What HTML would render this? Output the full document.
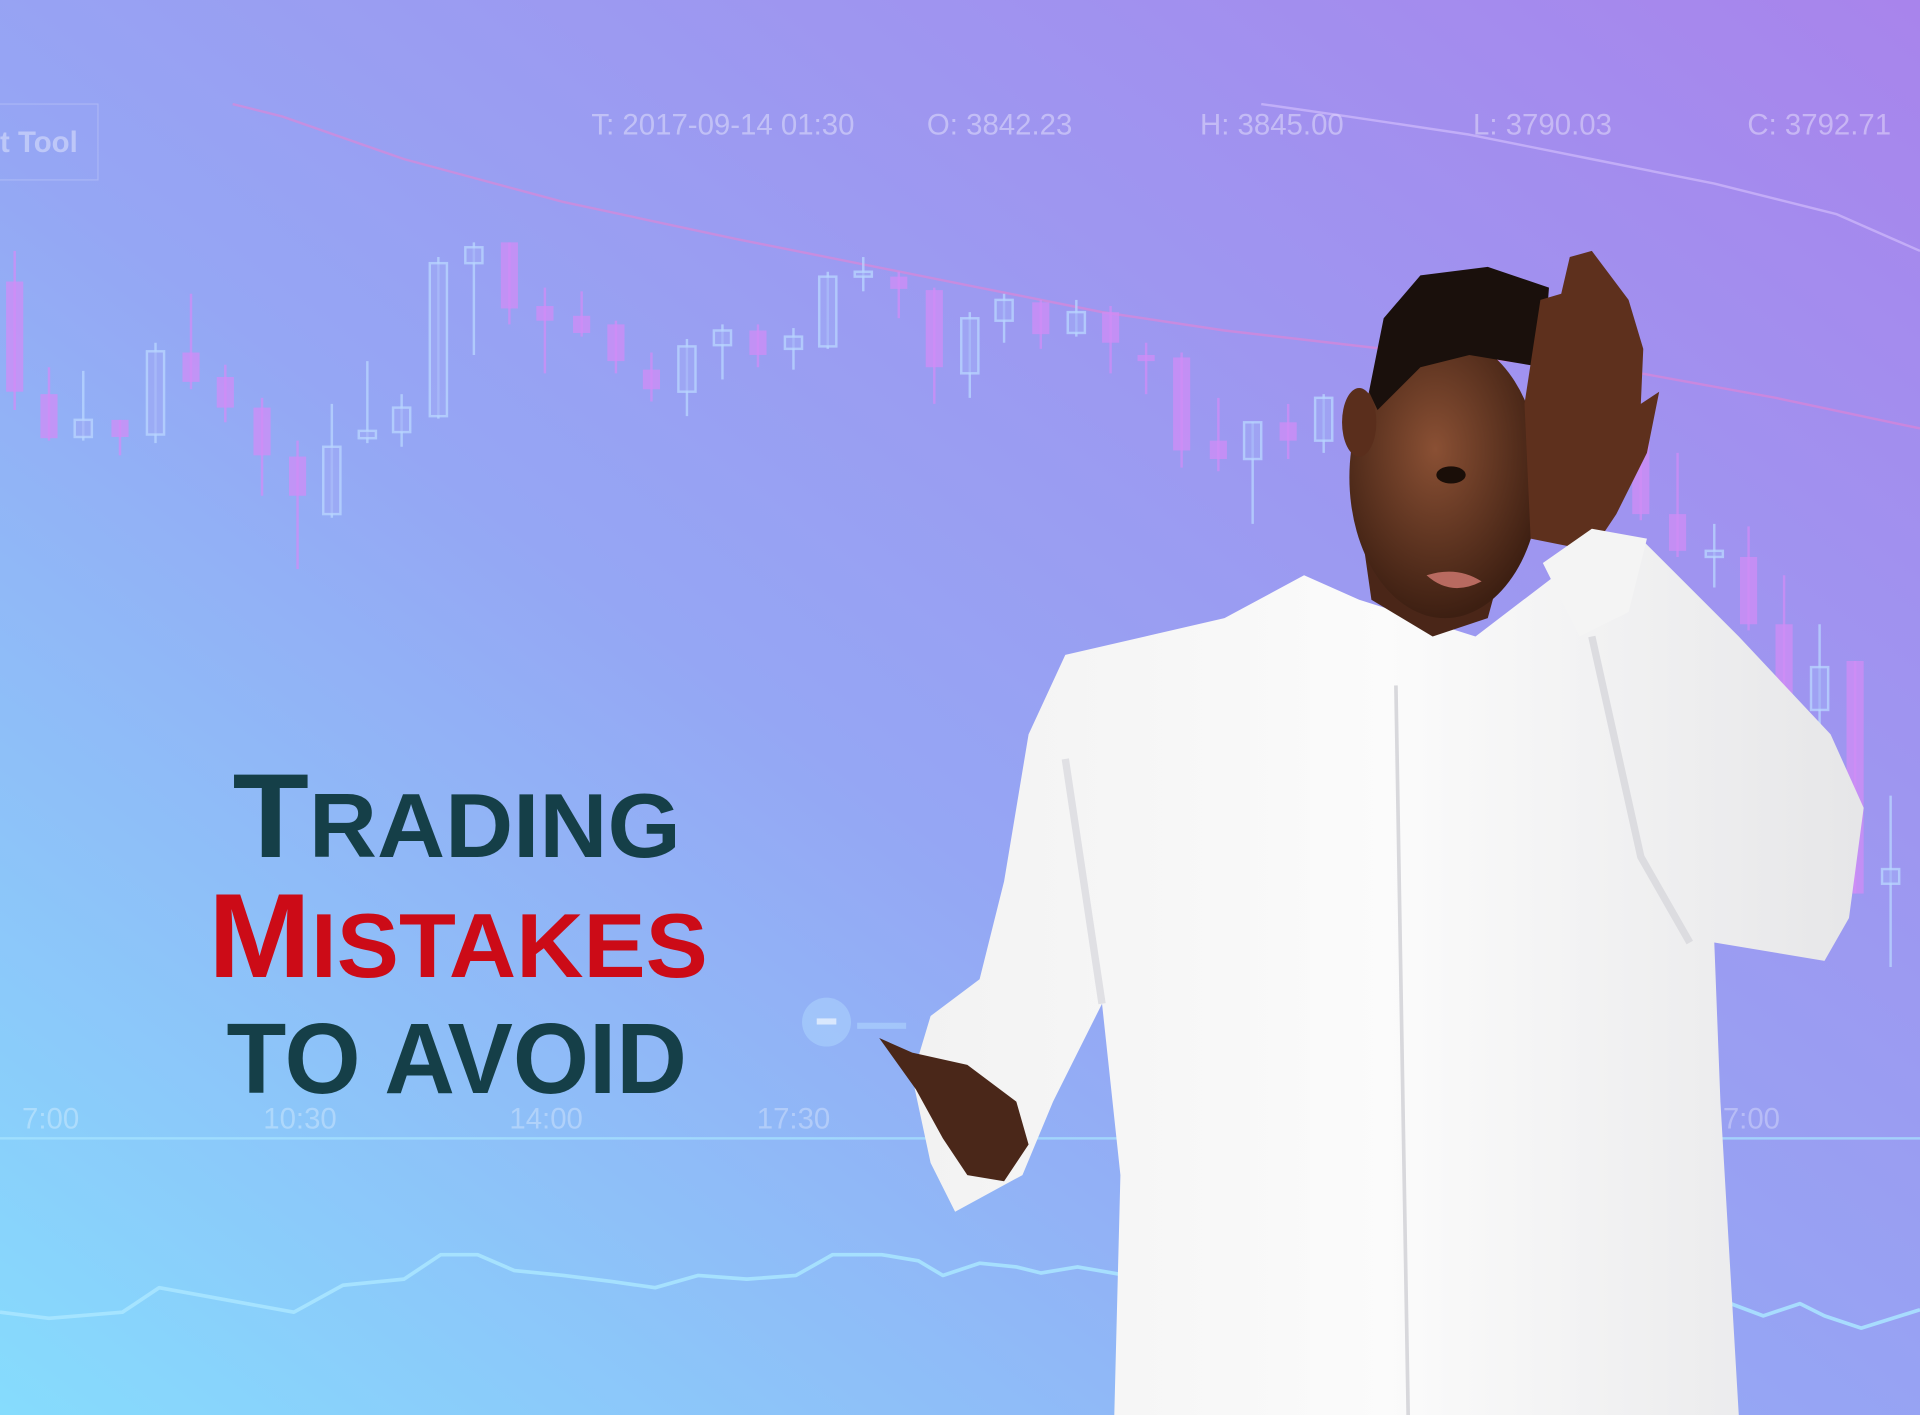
<!DOCTYPE html>
<html><head><meta charset="utf-8">
<style>
html,body{margin:0;padding:0;width:1920px;height:1415px;overflow:hidden;}
svg{display:block;}
</style></head>
<body>
<svg id="scene" width="1920" height="1415" viewBox="0 0 1568 1156" preserveAspectRatio="none" xmlns="http://www.w3.org/2000/svg">
<defs>
<linearGradient id="bg" x1="0" y1="1" x2="1" y2="0">
<stop offset="0" stop-color="#86dcfd"/>
<stop offset="0.45" stop-color="#95a6f4"/>
<stop offset="1" stop-color="#a884ec"/>
</linearGradient>
<radialGradient id="skin" cx="0.45" cy="0.4" r="0.6">
<stop offset="0" stop-color="#8a5034"/>
<stop offset="1" stop-color="#3d1f12"/>
</radialGradient>
<linearGradient id="shirt" x1="0" y1="0" x2="1" y2="0">
<stop offset="0" stop-color="#f2f2f2"/>
<stop offset="0.5" stop-color="#fbfbfb"/>
<stop offset="1" stop-color="#e6e6e8"/>
</linearGradient>
</defs>
<rect x="0" y="0" width="1568" height="1156" fill="url(#bg)"/>

<g fill="#ffffff" fill-opacity="0.38" font-family="'Liberation Sans Narrow','Liberation Sans',sans-serif" font-size="24">
<rect x="-10" y="85" width="90" height="62" fill="none" stroke="#ffffff" stroke-opacity="0.2"/>
<text x="0" y="124" font-weight="bold">t Tool</text>
<text x="483" y="110">T: 2017-09-14 01:30</text>
<text x="757" y="110">O: 3842.23</text>
<text x="980" y="110">H: 3845.00</text>
<text x="1203" y="110">L: 3790.03</text>
<text x="1427" y="110">C: 3792.71</text>
</g>

<g id="chart"></g>

<g>
<line x1="0" y1="930" x2="1568" y2="930" stroke="#a8e6ff" stroke-opacity="0.7" stroke-width="2"/>
<g fill="#ffffff" fill-opacity="0.3" font-family="'Liberation Sans Narrow','Liberation Sans',sans-serif" font-size="24">
<text x="18" y="922">7:00</text>
<text x="215" y="922">10:30</text>
<text x="416" y="922">14:00</text>
<text x="618" y="922">17:30</text>
<text x="1407" y="922">7:00</text>
</g>
</g>

<g>
<circle cx="675" cy="835" r="20" fill="#b4dcff" fill-opacity="0.45"/>
<rect x="667" y="832" width="16" height="5" fill="#ffffff" fill-opacity="0.6"/>
<line x1="700" y1="838" x2="740" y2="838" stroke="#b4dcff" stroke-opacity="0.5" stroke-width="5"/>
</g>

<g id="indicator"></g>

<g>
<!-- shirt body -->
<path fill="url(#shirt)" d="M870 535 L1000 505 L1065 470 L1110 490 L1205 520 L1290 455 L1340 440 L1420 520 L1495 600 L1522 660 L1510 750 L1490 785 L1400 770 L1405 900 L1420 1156 L910 1156 L915 960 L900 820 L880 860 L860 900 L835 960 L780 990 L760 950 L745 880 L760 830 L800 800 L820 720 L840 600 Z"/>
<path d="M1140 560 L1150 1156" stroke="#d8d8dc" stroke-width="3" fill="none"/>
<path d="M1300 520 L1340 700 L1380 770" stroke="#dcdce0" stroke-width="6" fill="none"/>
<path d="M870 620 L900 820" stroke="#e0e0e4" stroke-width="6" fill="none"/>
<!-- neck -->
<path fill="#4a2618" d="M1110 420 L1120 490 L1170 520 L1215 505 L1230 450 Z"/>
<!-- head -->
<ellipse cx="1180" cy="390" rx="78" ry="115" fill="url(#skin)"/>
<ellipse cx="1110" cy="345" rx="14" ry="28" fill="#5a2e1c"/>
<path fill="#1a100c" d="M1118 320 L1130 260 L1160 225 L1215 218 L1265 235 L1260 300 L1200 290 L1160 300 L1125 335 Z"/>
<ellipse cx="1185" cy="388" rx="12" ry="7" fill="#1a0e08"/>
<path d="M1165 470 Q1185 488 1210 475 Q1190 462 1165 470 Z" fill="#b86a60"/>
<!-- hand on head -->
<path fill="#5e301d" d="M1250 440 L1245 330 L1258 245 L1275 240 L1282 210 L1300 205 L1315 225 L1330 245 L1342 285 L1340 330 L1355 320 L1345 370 L1320 420 L1300 450 Z"/>
<path fill="#f4f4f4" d="M1260 460 L1300 432 L1345 440 L1330 500 L1290 520 Z"/>
<!-- left hand -->
<path fill="#4a2719" d="M718 848 L745 860 L790 870 L830 900 L840 935 L820 965 L790 960 L770 930 L748 890 Z"/>
</g>

<g font-family="'Liberation Sans Narrow','Liberation Sans',sans-serif" font-weight="bold">
<text x="190" y="700" fill="#153f48" textLength="366" lengthAdjust="spacingAndGlyphs"><tspan font-size="98">T</tspan><tspan font-size="74">RADING</tspan></text>
<text x="170" y="798" fill="#cc0b17" textLength="408" lengthAdjust="spacingAndGlyphs"><tspan font-size="98">M</tspan><tspan font-size="74">ISTAKES</tspan></text>
<text x="185" y="893" fill="#153f48" font-size="82" textLength="376" lengthAdjust="spacingAndGlyphs">TO AVOID</text>
</g>
</svg>

<script>
// Candle data (price units)
const candleX = [12,40,68,98,127,156,184,214,243,271,300,328,358,387,416,445,475,503,532,561,590,619,648,676,705,734,763,792,820,850,879,907,936,965,995,1023,1052,1081,1340,1370,1400,1428,1457,1486,1515,1544];
const opens  = [770,678,643,657,645,712,692,667,627,580,642,647,660,785,802,750,742,735,698,680,718,730,715,717,774,774,763,695,738,753,728,745,710,708,640,625,655,640,645,580,545,545,490,420,460,278];
const closes = [680,642,657,643,713,688,667,628,595,635,648,667,785,798,748,738,728,705,682,717,730,710,725,774,778,764,700,740,755,727,745,720,705,632,625,655,640,675,580,550,550,490,430,455,270,290];
const highs  = [795,700,697,657,720,760,702,675,640,670,705,678,790,802,802,765,762,738,712,723,735,735,732,778,790,778,765,745,760,755,755,750,720,712,675,655,670,678,650,630,572,570,530,490,460,350];
const lows   = [665,640,640,628,638,682,655,595,535,577,638,635,658,710,735,695,725,695,672,660,690,700,698,715,762,740,670,675,720,715,725,695,678,618,615,572,625,630,575,545,520,485,425,400,270,210];
// Moving average lines
const maX = [190,230,330,460,600,700,800,900,1000,1130,1340,1450,1568];
const maV = [915,905,870,835,805,785,765,745,730,715,695,675,650];
const ma2X = [1030,1100,1200,1300,1400,1500,1568];
const ma2V = [915,905,890,870,850,825,795];
// Indicator panel (bottom)
const indX = [0,40,100,130,240,280,330,360,390,420,460,500,535,570,610,650,680,720,750,770,800,830,850,880,920,1400,1440,1470,1490,1520,1568];
const indV = [128,123,128,148,128,150,155,175,175,162,158,153,148,158,155,158,175,175,170,158,168,165,160,165,158,140,125,135,125,115,130];

const NS = 'http://www.w3.org/2000/svg';
function yPrice(v){ return 1000 - v; }
function yInd(v){ return 1200 - v; }
const chart = document.getElementById('chart');

function mkLine(xs, vs, yf, color, w, name, parent){
  const p = document.createElementNS(NS,'polyline');
  p.setAttribute('points', xs.map((x,i)=>x+','+yf(vs[i])).join(' '));
  p.setAttribute('fill','none');
  p.setAttribute('stroke',color);
  p.setAttribute('stroke-width',w);
  p.setAttribute('stroke-linejoin','round');
  
  
  parent.appendChild(p);
}

mkLine(maX, maV, yPrice, 'rgba(235,130,210,0.55)', 2, 'moving-average-line', chart);
mkLine(ma2X, ma2V, yPrice, 'rgba(220,200,255,0.55)', 2, 'moving-average-line-2', chart);

candleX.forEach((x,i)=>{
  const o=opens[i], c=closes[i], h=highs[i], l=lows[i];
  const bear = c < o;
  const col = bear ? 'rgba(208,140,245,0.75)' : 'rgba(185,215,255,0.75)';
  const g = document.createElementNS(NS,'g');
  
  
  const wick = document.createElementNS(NS,'line');
  wick.setAttribute('x1',x); wick.setAttribute('x2',x);
  wick.setAttribute('y1',yPrice(h)); wick.setAttribute('y2',yPrice(l));
  wick.setAttribute('stroke',col); wick.setAttribute('stroke-width',2);
  g.appendChild(wick);
  const body = document.createElementNS(NS,'rect');
  const top = yPrice(Math.max(o,c)), bot = yPrice(Math.min(o,c));
  body.setAttribute('x',x-7); body.setAttribute('width',14);
  body.setAttribute('y',top); body.setAttribute('height',Math.max(3,bot-top));
  if(bear){ body.setAttribute('fill',col); }
  else { body.setAttribute('fill','rgba(160,170,245,0.6)'); body.setAttribute('stroke',col); body.setAttribute('stroke-width',2); }
  g.appendChild(body);
  chart.appendChild(g);
});

const ind = document.getElementById('indicator');
mkLine(indX.slice(0,25), indV.slice(0,25), yInd, 'rgba(170,230,255,0.85)', 3, 'indicator-line', ind);
mkLine(indX.slice(25), indV.slice(25), yInd, 'rgba(170,230,255,0.85)', 3, 'indicator-line-right', ind);
</script>
</body></html>
